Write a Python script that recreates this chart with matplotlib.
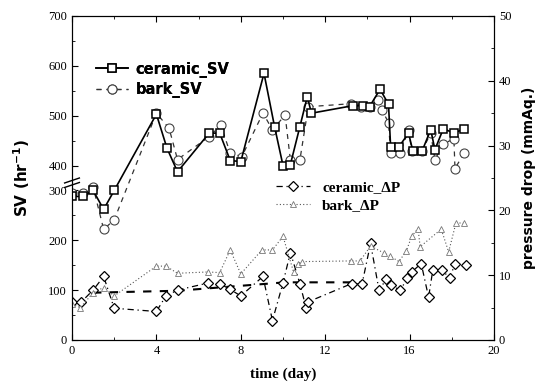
import numpy as np
import matplotlib
matplotlib.use("Agg")
import matplotlib.pyplot as plt

# space velocity (hr^-1), left axis
ceramic_sv_t = [0.0, 0.5, 1.0, 1.5, 2.0, 4.0, 4.5, 5.0, 6.5, 7.0, 7.5, 8.0, 9.1, 9.6,
                10.0, 10.35, 10.8, 11.15, 11.35, 13.3, 13.8, 14.1, 14.6, 15.0, 15.1,
                15.5, 15.95, 16.15, 16.6, 17.0, 17.2, 17.6, 18.1, 18.6]
ceramic_sv = [288, 288, 300, 262, 300, 503, 435, 375, 465, 465, 410, 408, 585, 478,
              400, 402, 478, 538, 505, 520, 520, 518, 553, 523, 438,
              438, 465, 430, 430, 472, 432, 474, 465, 474]

bark_sv_t = [0.0, 0.5, 1.0, 1.5, 2.0, 4.0, 4.6, 5.0, 6.5, 7.05, 7.5, 8.05, 9.05, 9.5,
             10.1, 10.35, 10.8, 11.2, 13.2, 13.7, 14.1, 14.5, 14.7, 15.0, 15.1, 15.55,
             15.95, 16.1, 16.6, 17.0, 17.2, 17.6, 18.1, 18.15, 18.6]
bark_sv = [294, 294, 314, 222, 241, 505, 475, 412, 458, 481, 425, 418, 505, 472,
           501, 411, 411, 518, 524, 518, 518, 531, 511, 486, 426, 426,
           471, 430, 430, 465, 412, 443, 454, 388, 426]

# pressure drop (mmAq.), right axis
ceramic_dp_t = [0.0, 0.45, 1.0, 1.5, 2.0, 4.0, 4.45, 5.0, 6.45, 7.0, 7.5, 8.0, 9.05,
                9.5, 10.0, 10.35, 10.8, 11.1, 11.2, 13.25, 13.75, 14.15, 14.55, 14.9,
                15.1, 15.55, 15.9, 16.1, 16.55, 16.9, 17.1, 17.55, 17.9, 18.15, 18.65]
ceramic_dp = [5.9, 5.9, 7.7, 9.8, 4.9, 4.4, 6.8, 7.7, 8.8, 8.7, 7.8, 6.8, 9.8,
              3.0, 8.8, 13.5, 8.7, 4.9, 5.9, 8.7, 8.7, 14.9, 7.7, 9.4,
              8.5, 7.7, 9.5, 10.5, 11.8, 6.6, 10.8, 10.8, 9.5, 11.8, 11.6]
ceramic_dp_trend_t = [1.0, 5.0, 10.1, 13.7]
ceramic_dp_trend = [7.3, 7.6, 8.9, 8.9]

bark_dp_t = [0.0, 0.4, 1.0, 1.5, 2.0, 4.0, 4.45, 5.0, 6.45, 7.0, 7.5, 8.0, 9.0, 9.5,
             10.0, 10.5, 10.7, 10.9, 13.2, 13.65, 14.15, 14.8, 15.05, 15.5, 15.85,
             16.1, 16.4, 16.5, 17.5, 17.85, 18.2, 18.6]
bark_dp = [5.5, 5.0, 7.3, 8.1, 6.8, 11.4, 11.4, 10.3, 10.5, 10.4, 13.9, 10.2, 13.9, 13.9,
           16.0, 10.5, 11.8, 12.1, 12.2, 12.2, 14.5, 13.4, 13.0, 12.1, 13.8,
           16.0, 17.2, 14.4, 17.1, 13.6, 18.1, 18.0]

x_ticks = [0, 4, 8, 12, 16, 20]
sv_ticks = [0, 100, 200, 300, 400, 500, 600, 700]
dp_ticks = [0, 10, 20, 30, 40, 50]


# broken left axis: 300..400 squeezed to half
def fwd(v):
    v = np.asarray(v, dtype=float)
    return np.where(v <= 300, v, np.where(v >= 400, v - 50, 300 + (v - 300) * 0.5))


def inv(d):
    d = np.asarray(d, dtype=float)
    return np.where(d <= 300, d, np.where(d >= 350, d + 50, 300 + (d - 300) * 2))


serif = "Liberation Serif"
sans = "DejaVu Sans"

fig = plt.figure(figsize=(5.55, 3.87), dpi=100)
ax = fig.add_axes([72 / 555, 47 / 387, 422 / 555, 324 / 387])
ax2 = ax.twinx()

ax.set_yscale("function", functions=(fwd, inv))

l1, = ax.plot(ceramic_sv_t, ceramic_sv, "-", color="black", lw=1.2, marker="s",
              ms=6, mfc="white", mec="black", mew=1.1, label="ceramic_SV", zorder=4)
l2, = ax.plot(bark_sv_t, bark_sv, color="#333333", lw=0.9, ls=(0, (4, 4)), marker="o",
              ms=6.5, mfc="white", mec="#444444", mew=0.8, label="bark_SV", zorder=3)

ax2.plot(ceramic_dp_trend_t, ceramic_dp_trend, color="black", lw=1.5, ls=(0, (4, 4)))
l3, = ax2.plot(ceramic_dp_t, ceramic_dp, color="black", lw=0.9, ls=(0, (5, 3, 1, 3)),
               marker="D", ms=5.5, mfc="white", mec="black", mew=0.9, label="ceramic_\u0394P")
l4, = ax2.plot(bark_dp_t, bark_dp, color="#555555", lw=0.8, ls=(0, (1, 2)),
               marker="^", ms=5, mfc="white", mec="#777777", mew=0.6, label="bark_\u0394P")

ax.set_xlim(0, 20)
ax.set_ylim(0, 700)
ax2.set_ylim(0, 50)

ax.set_xticks(x_ticks)
ax.set_xticks(np.arange(0, 21, 2), minor=True)
ax.set_yticks(sv_ticks)
ax.set_yticks([50, 150, 250, 450, 550, 650], minor=True)
ax2.set_yticks(dp_ticks)
ax2.set_yticks(np.arange(0, 51, 5), minor=True)

ax.tick_params(which="both", direction="in", top=True, right=False, labelsize=9)
ax.tick_params(which="major", length=4)
ax.tick_params(which="minor", length=2)
ax2.tick_params(which="both", direction="in", labelsize=9)
ax2.tick_params(which="major", length=4)
ax2.tick_params(which="minor", length=2)
for lab in ax.get_xticklabels() + ax.get_yticklabels() + ax2.get_yticklabels():
    lab.set_fontfamily(serif)

# axis break marks
for yv in [322, 340]:
    ax.plot([-0.35, 0.35], [yv - 10, yv + 10], color="black", lw=1.0, clip_on=False, zorder=6)

ax.set_xlabel("time (day)", fontsize=11, fontweight="bold", family=serif, labelpad=8)
ax.set_ylabel("SV (hr$^{\\mathbf{-1}}$)", fontsize=11, fontweight="bold", family=sans, labelpad=12)
ax2.set_ylabel("pressure drop (mmAq.)", fontsize=10, fontweight="bold", family=sans, labelpad=8)

leg1 = ax.legend(handles=[l1, l2], loc="upper left", bbox_to_anchor=(0.026, 0.9),
                 frameon=False, handlelength=2.2, handletextpad=0.5, labelspacing=0.3,
                 prop={"family": sans, "weight": "bold", "size": 10.5})
ax.add_artist(leg1)
ax2.legend(handles=[l3, l4], loc="upper left", bbox_to_anchor=(0.452, 0.535),
           frameon=False, handlelength=2.2, handletextpad=0.8, labelspacing=0.3,
           prop={"family": serif, "weight": "bold", "size": 11})

fig.savefig("out.png", dpi=100)
